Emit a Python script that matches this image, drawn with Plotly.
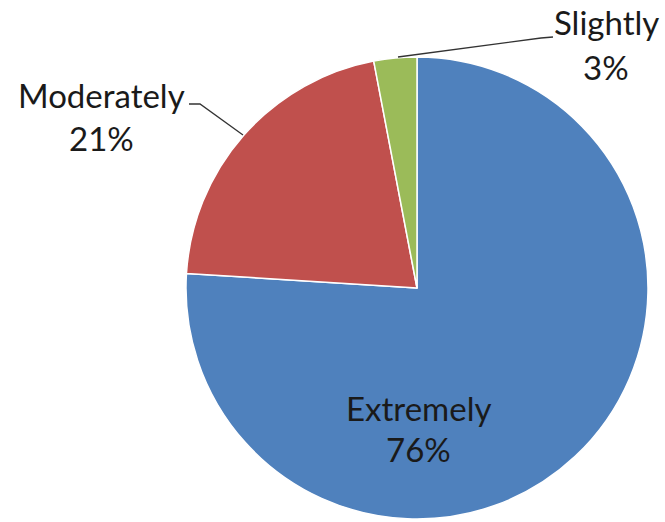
import plotly.graph_objects as go

# Survey responses
labels = ["Extremely", "Moderately", "Slightly"]
shares = [76, 21, 3]
colors = ["#4F81BD", "#C0504D", "#9BBB59"]

W, H = 665, 522

def px(x):
    return x / W

def py(y):
    return 1 - y / H

fig = go.Figure(go.Pie(
    labels=labels,
    values=shares,
    sort=False,
    direction="clockwise",
    rotation=0,
    marker=dict(colors=colors, line=dict(color="white", width=1.5)),
    textinfo="none",
    hoverinfo="label+percent",
    showlegend=False,
    domain=dict(x=[px(186), px(648)], y=[py(519), py(57)]),
))

font = dict(family="Lato, 'Open Sans', sans-serif", size=33, color="#1a1a1a")

# label positions (pixel space): centre x, name line y, value line y
label_pos = {
    "Extremely": (418, 408, 449),
    "Moderately": (101, 95, 138),
    "Slightly": (606, 22, 67),
}
for name, val in zip(labels, shares):
    x, y1, y2 = label_pos[name]
    for txt, y in ((name, y1), (f"{val}%", y2)):
        fig.add_annotation(
            x=px(x), y=py(y), xref="paper", yref="paper",
            text=txt, showarrow=False,
            font=font, align="center", xanchor="center", yanchor="middle",
        )

# leader lines for the outside labels
def line_path(points):
    return "M " + " L ".join(f"{px(a)},{py(b)}" for a, b in points)

fig.add_shape(type="path", xref="paper", yref="paper",
              path=line_path([(189, 104), (200, 104), (243, 135)]),
              line=dict(color="#333333", width=1.3))
fig.add_shape(type="path", xref="paper", yref="paper",
              path=line_path([(398, 57), (541, 38), (553, 37)]),
              line=dict(color="#333333", width=1.3))

fig.update_layout(
    width=W, height=H,
    margin=dict(l=0, r=0, t=0, b=0),
    paper_bgcolor="white",
    plot_bgcolor="white",
)

fig.write_html("out.html")
